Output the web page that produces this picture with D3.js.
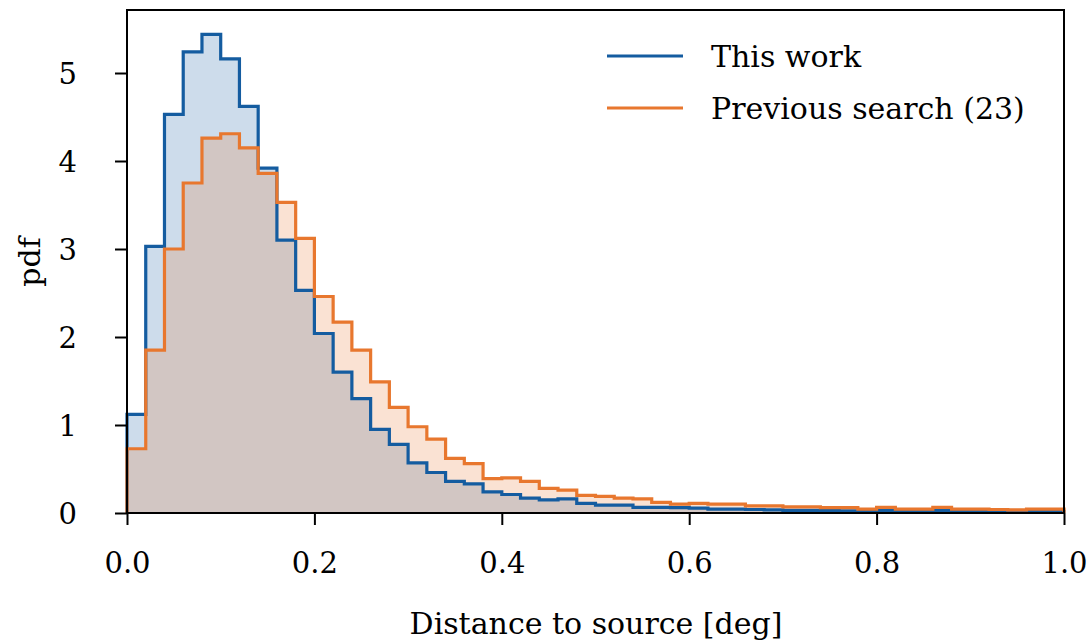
<!DOCTYPE html>
<html><head><meta charset="utf-8">
<script src="https://cdn.jsdelivr.net/npm/d3@7"></script>
<style>body{margin:0;background:#fff}svg{display:block}text{font-family:"DejaVu Serif",serif;fill:#000}</style>
</head><body><svg id="c" width="1090" height="644"></svg>
<script>
const binWidth = 0.02;
const thisWork = [1.12,3.03,4.53,5.24,5.44,5.16,4.62,3.92,3.10,2.53,
  2.04,1.60,1.30,0.95,0.78,0.57,0.46,0.36,0.33,0.24,
  0.21,0.17,0.15,0.16,0.11,0.09,0.09,0.065,0.065,0.06,
  0.055,0.045,0.045,0.04,0.035,0.03,0.03,0.03,0.025,0.02,
  0.03,0.02,0.02,0.03,0.02,0.02,0.02,0.02,0.02,0.02];
const previous = [0.73,1.85,3.00,3.75,4.26,4.31,4.15,3.86,3.53,3.12,
  2.46,2.17,1.85,1.49,1.20,0.98,0.84,0.62,0.56,0.39,
  0.40,0.36,0.28,0.26,0.20,0.19,0.17,0.16,0.12,0.10,
  0.11,0.10,0.10,0.08,0.08,0.07,0.07,0.06,0.06,0.045,
  0.065,0.045,0.045,0.065,0.045,0.045,0.04,0.035,0.045,0.045];
const xTicks = [0,0.2,0.4,0.6,0.8,1.0];
const yTicks = [0,1,2,3,4,5];
const seriesNames = ["This work","Previous search (23)"];
const colors = ["#145ca0","#e8772e"];

const svg = d3.select("#c");
const x = d3.scaleLinear().domain([0,1]).range([127,1064]);
const y = d3.scaleLinear().domain([0,5.716]).range([513,10]);

function pts(vals){
  const p = vals.map((v,i)=>[i*binWidth, v]);
  p.push([vals.length*binWidth, vals[vals.length-1]]);
  return p;
}
const area = d3.area().curve(d3.curveStepAfter).x(d=>x(d[0])).y0(y(0)).y1(d=>y(d[1]));
const line = d3.line().curve(d3.curveStepAfter).x(d=>x(d[0])).y(d=>y(d[1]));

const data = [thisWork, previous];
data.forEach((vals,k)=>{
  svg.append("path").attr("d", area(pts(vals))).attr("fill", colors[k]).attr("fill-opacity",0.21);
});
data.forEach((vals,k)=>{
  const p = pts(vals);
  svg.append("path").attr("d", "M"+x(0)+","+y(0)+"L"+line(p).slice(1)+"L"+x(1)+","+y(0))
    .attr("fill","none").attr("stroke", colors[k]).attr("stroke-width",3.2).attr("stroke-linejoin","miter");
});

// frame
svg.append("rect").attr("x",127).attr("y",10).attr("width",937).attr("height",503)
  .attr("fill","none").attr("stroke","#000").attr("stroke-width",2);

const xAxis = d3.axisBottom(x).tickValues(xTicks).tickFormat(d3.format(".1f")).tickSize(12).tickPadding(27);
const gx = svg.append("g").attr("transform","translate(0,513)").call(xAxis);
gx.select(".domain").remove();
gx.selectAll("line").attr("stroke","#000").attr("stroke-width",2);
gx.selectAll("text").attr("font-size",29).style("font-family","DejaVu Serif");

const yAxis = d3.axisLeft(y).tickValues(yTicks).tickFormat(d3.format("d")).tickSize(12).tickPadding(38);
const gy = svg.append("g").attr("transform","translate(127,0)").call(yAxis);
gy.select(".domain").remove();
gy.selectAll("line").attr("stroke","#000").attr("stroke-width",2);
gy.selectAll("text").attr("font-size",29).attr("dy","0.35em").style("font-family","DejaVu Serif");

svg.append("text").attr("x",596).attr("y",634).attr("text-anchor","middle").attr("font-size",30).text("Distance to source [deg]");
svg.append("text").attr("transform","translate(40,262) rotate(-90)").attr("text-anchor","middle").attr("font-size",30).text("pdf");

// legend
seriesNames.forEach((n,k)=>{
  const yy = 56 + k*52;
  svg.append("line").attr("x1",607).attr("x2",683).attr("y1",yy).attr("y2",yy)
    .attr("stroke",colors[k]).attr("stroke-width",3);
  svg.append("text").attr("x",711).attr("y",yy).attr("dy","0.35em").attr("font-size",30).text(n);
});
</script></body></html>
